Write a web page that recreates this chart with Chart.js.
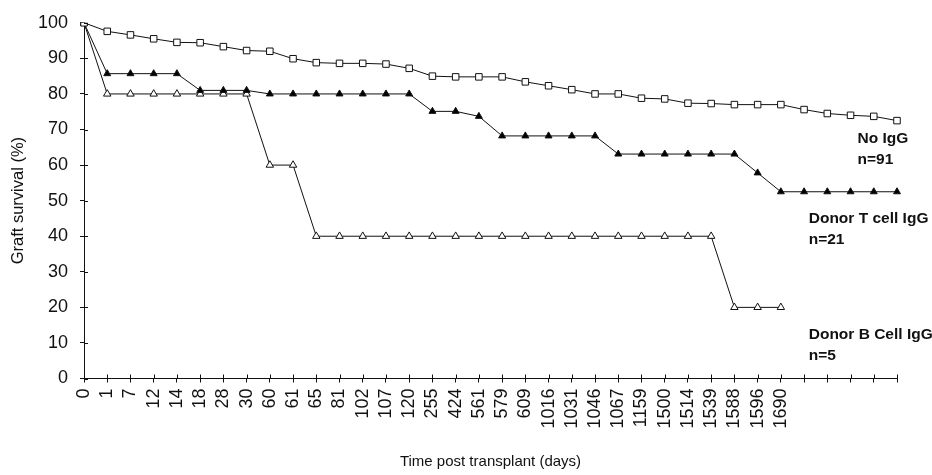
<!DOCTYPE html>
<html>
<head>
<meta charset="utf-8">
<script src="https://cdn.jsdelivr.net/npm/chart.js@4.4.1/dist/chart.umd.min.js"></script>
<style>
    html, body { margin: 0; padding: 0; background: #fff; }
    #wrap { width: 932px; height: 475px; }
</style>
</head>
<body>
<div id="wrap"><canvas id="survivalChart" width="932" height="475"></canvas></div>
<script>
// Time points (days) - the last five columns carry no label
const days = ['0', '1', '7', '12', '14', '18', '28', '30', '60', '61', '65', '81', '102', '107', '120',
    '255', '424', '561', '579', '609', '1016', '1031', '1046', '1067', '1159', '1500', '1514',
    '1539', '1588', '1596', '1690', '', '', '', '', ''];

const noIgG = [100, 97.6, 96.6, 95.5, 94.5, 94.4, 93.3, 92.2, 92.0, 89.9, 88.8, 88.6, 88.6, 88.4,
    87.2, 85.0, 84.8, 84.8, 84.8, 83.4, 82.3, 81.2, 80.0, 80.0, 78.8, 78.6, 77.4, 77.3, 77.0,
    77.0, 77.0, 75.6, 74.5, 74.0, 73.7, 72.5];

const donorTcell = [100, 85.7, 85.7, 85.7, 85.7, 81.0, 81.0, 81.0, 80.0, 80.0, 80.0, 80.0, 80.0,
    80.0, 80.0, 75.1, 75.1, 73.7, 68.2, 68.2, 68.2, 68.2, 68.2, 63.1, 63.1, 63.1, 63.1, 63.1,
    63.1, 57.8, 52.5, 52.5, 52.5, 52.5, 52.5, 52.5];

const donorBcell = [100, 80, 80, 80, 80, 80, 80, 80, 60, 60, 40, 40, 40, 40, 40, 40, 40, 40, 40,
    40, 40, 40, 40, 40, 40, 40, 40, 40, 20, 20, 20, null, null, null, null, null];

const yTicks = [0, 10, 20, 30, 40, 50, 60, 70, 80, 90, 100];

const seriesNotes = [
    ['No IgG', 'n=91'],
    ['Donor T cell IgG', 'n=21'],
    ['Donor B Cell IgG', 'n=5']
];

const FONT = '"Liberation Sans", Arial, Helvetica, sans-serif';
const INK = '#111';

// small inward part of every tick mark (ticks cross the axis line)
const crossTicks = {
    id: 'crossTicks',
    afterDraw: (chart) => {
        const { ctx, chartArea, scales } = chart;
        ctx.save();
        ctx.strokeStyle = INK;
        ctx.lineWidth = 1;
        ctx.beginPath();
        scales.y.ticks.forEach((t, i) => {
            const y = Math.round(scales.y.getPixelForTick(i)) + 0.5;
            ctx.moveTo(chartArea.left, y);
            ctx.lineTo(chartArea.left + 4, y);
        });
        scales.x.ticks.forEach((t, i) => {
            const x = Math.round(scales.x.getPixelForTick(i)) + 0.5;
            ctx.moveTo(x, chartArea.bottom);
            ctx.lineTo(x, chartArea.bottom - 4);
        });
        ctx.stroke();
        ctx.restore();
    }
};

// series names written next to the curves, anchored in data space
const notesPlugin = {
    id: 'seriesNotes',
    afterDraw: (chart) => {
        const { ctx, scales } = chart;
        const anchors = [[33.3, 67.5], [31.2, 45], [31.2, 12.4]];
        ctx.save();
        ctx.fillStyle = INK;
        ctx.font = 'bold 15.5px ' + FONT;
        ctx.textBaseline = 'middle';
        ctx.textAlign = 'left';
        seriesNotes.forEach((lines, k) => {
            const x = scales.x.getPixelForValue(anchors[k][0]);
            const y = scales.y.getPixelForValue(anchors[k][1]);
            lines.forEach((txt, j) => ctx.fillText(txt, x, y + j * 21));
        });
        ctx.restore();
    }
};

const lineSet = (label, data, style, radius, fill) => ({
    label: label,
    data: data,
    borderColor: INK,
    borderWidth: 1,
    backgroundColor: fill,
    pointStyle: style,
    pointRadius: radius,
    pointBorderColor: INK,
    pointBackgroundColor: fill,
    pointBorderWidth: 1,
    tension: 0,
    spanGaps: false
});

new Chart(document.getElementById('survivalChart'), {
    type: 'line',
    data: {
        labels: days,
        datasets: [
            lineSet('No IgG', noIgG, 'rect', 4.6, '#fff'),
            lineSet('Donor T cell IgG', donorTcell, 'triangle', 4, '#000'),
            lineSet('Donor B Cell IgG', donorBcell, 'triangle', 4.3, '#fff')
        ]
    },
    options: {
        responsive: false,
        animation: false,
        layout: { padding: { top: 18, right: 35, bottom: 0, left: 0 } },
        plugins: {
            legend: { display: false },
            tooltip: { enabled: false }
        },
        scales: {
            x: {
                type: 'category',
                offset: false,
                grid: { display: true, drawOnChartArea: false, drawTicks: true, tickLength: 4, color: INK },
                border: { display: true, color: INK, width: 1 },
                ticks: {
                    autoSkip: false,
                    maxRotation: 90,
                    minRotation: 90,
                    padding: 6,
                    color: INK,
                    font: { family: FONT, size: 18 }
                },
                title: {
                    display: true,
                    text: 'Time post transplant (days)',
                    color: INK,
                    font: { family: FONT, size: 15 },
                    padding: { top: 0, bottom: 4 }
                },
                afterFit: (scale) => { scale.height = 96.5; }
            },
            y: {
                min: 0,
                max: 100,
                afterBuildTicks: (scale) => { scale.ticks = yTicks.map(v => ({ value: v })); },
                grid: { display: true, drawOnChartArea: false, drawTicks: true, tickLength: 4, color: INK },
                border: { display: true, color: INK, width: 1 },
                ticks: {
                    padding: 12,
                    color: INK,
                    font: { family: FONT, size: 18 }
                },
                title: {
                    display: true,
                    text: 'Graft survival (%)',
                    color: INK,
                    font: { family: FONT, size: 16.5 },
                    padding: { top: 9, bottom: 0 }
                },
                afterFit: (scale) => { scale.width = 84; }
            }
        }
    },
    plugins: [crossTicks, notesPlugin]
});
</script>
</body>
</html>
